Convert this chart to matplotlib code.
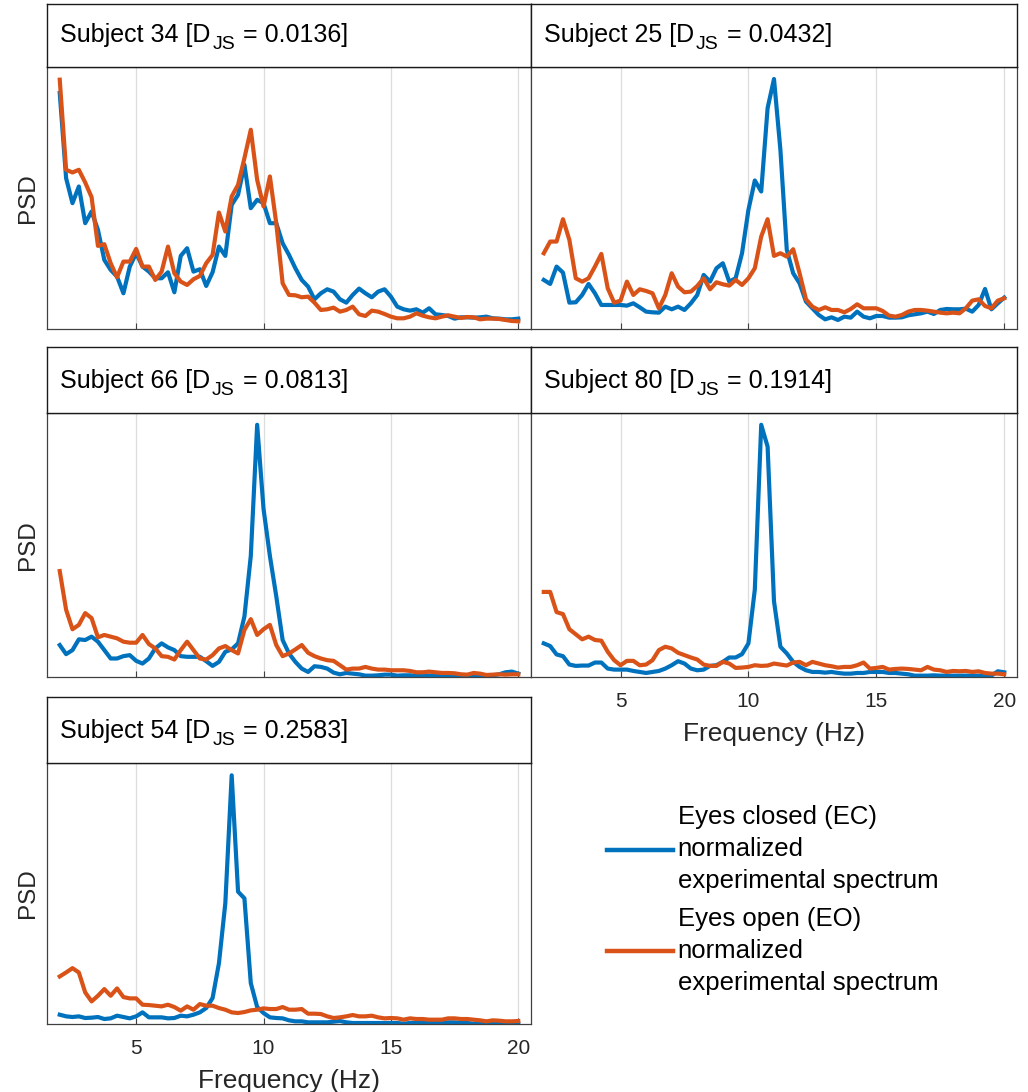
import numpy as np
import matplotlib
matplotlib.use('Agg')
import matplotlib.pyplot as plt
from matplotlib.lines import Line2D

plt.rcParams['font.family'] = ['Liberation Sans', 'DejaVu Sans']

# frequency grid (Hz), 0.25 Hz resolution
freq = np.linspace(2, 20, 73)

# normalized spectra (arbitrary units)
s34_ec = [707, 452, 377, 427, 317, 352, 297, 207, 177, 157,
          107, 187, 227, 187, 172, 152, 152, 170, 110, 219,
          242, 172, 179, 129, 170, 247, 219, 372, 402, 492,
          362, 387, 377, 317, 317, 257, 222, 182, 147, 127,
          89, 107, 119, 112, 89, 79, 102, 121, 107, 95,
          112, 119, 97, 67, 59, 55, 59, 49, 62, 44,
          42, 39, 31, 35, 35, 34, 35, 37, 32, 31,
          29, 29, 31]
s34_eo = [747, 477, 469, 477, 439, 395, 249, 254, 197, 155,
          202, 202, 240, 187, 187, 147, 172, 247, 167, 142,
          132, 149, 159, 197, 222, 349, 292, 397, 432, 512,
          597, 447, 367, 457, 317, 137, 102, 101, 95, 97,
          79, 57, 59, 64, 52, 57, 67, 44, 39, 55,
          52, 45, 37, 32, 32, 37, 47, 40, 35, 32,
          37, 41, 37, 33, 36, 35, 29, 31, 31, 30,
          27, 24, 23]

s25_ec = [147, 135, 187, 169, 79, 80, 102, 135, 107, 72,
          72, 72, 72, 70, 77, 65, 52, 50, 49, 67,
          59, 67, 57, 77, 102, 162, 142, 182, 197, 142,
          152, 227, 357, 445, 412, 662, 749, 537, 237, 167,
          137, 82, 62, 42, 29, 35, 27, 37, 34, 52,
          37, 32, 39, 39, 34, 34, 35, 41, 44, 47,
          52, 45, 57, 60, 59, 59, 61, 52, 72, 120,
          59, 77, 94]
s25_eo = [227, 262, 262, 329, 267, 152, 142, 152, 187, 225,
          122, 79, 85, 142, 102, 119, 114, 107, 62, 102,
          167, 127, 110, 112, 129, 152, 119, 140, 134, 130,
          147, 132, 152, 182, 277, 329, 219, 227, 217, 239,
          167, 89, 67, 57, 65, 57, 57, 50, 60, 74,
          62, 62, 62, 54, 40, 37, 42, 52, 57, 57,
          55, 52, 49, 47, 49, 47, 62, 85, 89, 69,
          62, 85, 92]

s66_ec = [95, 68, 80, 112, 110, 120, 105, 80, 55, 55,
          62, 65, 48, 40, 55, 85, 100, 88, 80, 62,
          60, 60, 60, 47, 33, 45, 75, 82, 100, 180,
          360, 750, 500, 360, 240, 110, 70, 45, 25, 15,
          32, 30, 25, 13, 8, 12, 10, 8, 4, 4,
          5, 7, 7, 4, 5, 5, 4, 4, 4, 4,
          4, 5, 4, 2, 3, 4, 5, 4, 5, 8,
          14, 16, 10]
s66_eo = [315, 200, 142, 155, 190, 175, 118, 125, 120, 115,
          105, 102, 102, 125, 98, 85, 62, 60, 52, 80,
          105, 80, 55, 52, 65, 85, 92, 80, 70, 140,
          172, 125, 142, 155, 95, 62, 70, 82, 95, 72,
          62, 55, 50, 48, 35, 22, 25, 25, 30, 25,
          22, 22, 20, 20, 20, 18, 14, 14, 16, 14,
          12, 12, 11, 8, 7, 12, 10, 6, 7, 8,
          7, 8, 8]

s80_ec = [100, 92, 67, 62, 37, 33, 34, 34, 43, 43,
          25, 22, 22, 22, 18, 15, 12, 15, 18, 25,
          35, 47, 40, 25, 20, 22, 33, 35, 45, 58,
          58, 68, 100, 260, 750, 685, 225, 90, 70, 45,
          30, 20, 15, 15, 13, 15, 12, 10, 10, 12,
          12, 15, 15, 15, 12, 12, 10, 8, 4, 4,
          4, 5, 4, 4, 4, 4, 4, 4, 4, 4,
          4, 17, 14]
s80_eo = [253, 253, 193, 187, 142, 127, 112, 120, 110, 108,
          75, 50, 35, 48, 48, 35, 37, 50, 80, 90,
          85, 72, 65, 58, 52, 37, 33, 33, 45, 40,
          27, 28, 30, 35, 33, 34, 40, 37, 34, 43,
          45, 35, 45, 40, 35, 32, 28, 30, 30, 35,
          43, 25, 27, 30, 22, 24, 25, 24, 22, 20,
          30, 22, 20, 15, 18, 17, 18, 15, 17, 12,
          10, 10, 8]

s54_ec = [28, 23, 21, 23, 18, 19, 21, 15, 17, 25,
          21, 17, 23, 35, 20, 20, 20, 17, 18, 25,
          23, 28, 35, 48, 78, 183, 363, 748, 398, 378,
          123, 51, 33, 20, 18, 17, 11, 8, 8, 5,
          5, 5, 5, 7, 9, 5, 3, 3, 3, 3,
          3, 3, 3, 3, 1, 3, 3, 3, 3, 3,
          3, 5, 5, 3, 3, 1, 1, 1, 1, 1,
          1, 1, 1]
s54_eo = [143, 155, 168, 155, 95, 68, 85, 105, 85, 107,
          81, 77, 77, 58, 57, 55, 53, 58, 51, 40,
          53, 43, 60, 55, 55, 48, 43, 35, 33, 36,
          41, 43, 47, 45, 45, 51, 43, 43, 45, 31,
          31, 30, 23, 18, 20, 23, 27, 23, 23, 25,
          20, 17, 18, 17, 13, 17, 15, 15, 13, 13,
          13, 17, 17, 15, 15, 13, 11, 8, 11, 10,
          8, 8, 9]

subjects = ['34', '25', '66', '80', '54']
djs = ['0.0136', '0.0432', '0.0813', '0.1914', '0.2583']
ec_list = [s34_ec, s25_ec, s66_ec, s80_ec, s54_ec]
eo_list = [s34_eo, s25_eo, s66_eo, s80_eo, s54_eo]

blue = '#0072BD'
orange = '#D95319'
W, H = 1028, 1092

fig = plt.figure(figsize=(W / 100, H / 100), dpi=100)
renderer = fig.canvas.get_renderer()

# panel boxes in pixels: (left, width) and (plot top, plot bottom, header top)
cols = [(47, 484), (531, 486)]
rows = [(67, 329, 4), (413, 677, 347), (763, 1024, 697)]
cells = [(0, 0), (0, 1), (1, 0), (1, 1), (2, 0)]

for i, (r, c) in enumerate(cells):
    left, width = cols[c]
    top, bottom, htop = rows[r]
    ax = fig.add_axes([left / W, 1 - bottom / H, width / W, (bottom - top) / H])
    ax.plot(freq, ec_list[i], color=blue, lw=3.0)
    ax.plot(freq, eo_list[i], color=orange, lw=3.0)
    ax.set_xlim(1.5, 20.5)
    ax.set_ylim(0, 785)
    ax.set_xticks([5, 10, 15, 20])
    ax.set_yticks([])
    ax.grid(axis='x', color='#dcdcdc', lw=0.9)
    ax.set_axisbelow(True)
    ax.tick_params(axis='x', direction='in', length=4, width=0.8, color='#404040',
                   labelsize=15, pad=10.5, labelcolor='#262626')
    for sp in ax.spines.values():
        sp.set_color('#404040')
        sp.set_linewidth(0.9)
    if (r, c) in [(2, 0), (1, 1)]:
        ax.set_xlabel('Frequency (Hz)', fontsize=19, color='#262626', labelpad=8)
    else:
        ax.tick_params(axis='x', labelbottom=False)
    if c == 0:
        ax.set_ylabel('PSD', fontsize=17.5, color='#262626', labelpad=6)

    # header box with the subject title
    hax = fig.add_axes([left / W, 1 - top / H, width / W, (top - htop) / H])
    hax.set_xticks([])
    hax.set_yticks([])
    for sp in hax.spines.values():
        sp.set_color('#1a1a1a')
        sp.set_linewidth(1.0)
    base = 1 - (top - 25) / H
    t1 = fig.text((left + 13) / W, base, 'Subject ' + subjects[i] + ' [D',
                  fontsize=18, va='baseline', ha='left')
    bb = t1.get_window_extent(renderer)
    t2 = fig.text((bb.x1 + 2) / W, base - 7 / H, 'JS', fontsize=14,
                  va='baseline', ha='left')
    bb2 = t2.get_window_extent(renderer)
    fig.text((bb2.x1 + 1) / W, base, ' = ' + djs[i] + ']', fontsize=18,
             va='baseline', ha='left')

handles = [Line2D([], [], color=blue, lw=3.2), Line2D([], [], color=orange, lw=3.2)]
labels = ['Eyes closed (EC)\nnormalized\nexperimental spectrum',
          'Eyes open (EO)\nnormalized\nexperimental spectrum']
leg = fig.legend(handles, labels, loc='upper left', bbox_to_anchor=(607 / W, 1 - 805 / H),
                 frameon=False, fontsize=18.5, handlelength=2.55, handletextpad=0.2,
                 labelspacing=0.52, borderpad=0, borderaxespad=0)
for t in leg.get_texts():
    t.set_linespacing(1.43)
    t.set_color('black')

fig.savefig('out.png', dpi=100, facecolor='white')
